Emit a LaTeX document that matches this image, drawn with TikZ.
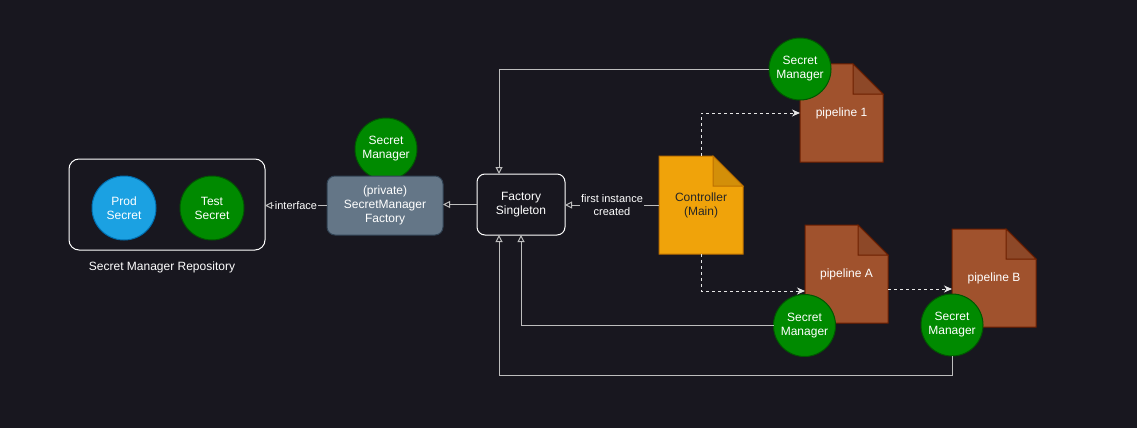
\documentclass[tikz,border=0pt]{standalone}
\usepackage{fontspec}
\setmainfont{Liberation Sans}
\usetikzlibrary{arrows.meta,calc}
\definecolor{bgc}{HTML}{18171F}
\definecolor{smgreen}{HTML}{008A00}
\definecolor{smgreenb}{HTML}{005700}
\definecolor{prodblue}{HTML}{1BA1E2}
\definecolor{prodblueb}{HTML}{006EAF}
\definecolor{smfill}{HTML}{647687}
\definecolor{smborder}{HTML}{314354}
\definecolor{ctrlfill}{HTML}{F0A30A}
\definecolor{ctrlborder}{HTML}{BD7000}
\definecolor{pipefill}{HTML}{A0522D}
\definecolor{pipeborder}{HTML}{6D1F00}
\definecolor{linec}{HTML}{BDBDBD}
\definecolor{dashc}{HTML}{E6E6E6}
\pgfdeclarelayer{bgl}\pgfdeclarelayer{notel}\pgfsetlayers{bgl,notel,main}
\newcommand\notebg[3]{%
\begin{pgfonlayer}{notel}
 \filldraw[fill=#2,draw=#3,line width=1pt,line join=miter] (#1.north west) -- ([xshift=-30pt]#1.north east) -- ([yshift=-30pt]#1.north east) -- (#1.south east) -- (#1.south west) -- cycle;
 \filldraw[fill=#2!88!black,draw=#3,line width=1pt,line join=miter] ([xshift=-30pt]#1.north east) -- ([xshift=-30pt,yshift=-30pt]#1.north east) -- ([yshift=-30pt]#1.north east) -- cycle;
\end{pgfonlayer}}
\tikzset{
  base/.style={font=\fontsize{12}{14}\selectfont, align=center, inner sep=0pt, outer sep=0pt, line width=1pt},
  smcircle/.style={base, circle, minimum size=62pt, fill=smgreen, draw=smgreenb, text=white},
  prodcircle/.style={base, circle, minimum size=64pt, fill=prodblue, draw=prodblueb, text=white},
  testcircle/.style={base, circle, minimum size=64pt, fill=smgreen, draw=smgreenb, text=white},
  notebox/.style={base, rectangle, minimum width=84pt, minimum height=98pt},
  conn/.style={draw=linec, line width=1pt, -{Triangle[open,length=7pt,width=7pt]}},
  dconn/.style={draw=dashc, line width=1pt, dash pattern=on 3pt off 3pt, -{Stealth[length=8pt,width=7pt,inset=2.5pt]}},
  elabel/.style={font=\fontsize{11}{13}\selectfont, align=center, text=white, fill=bgc, inner sep=1pt},
}
\begin{document}
\begin{tikzpicture}[x=1pt,y=-1pt]
\begin{pgfonlayer}{bgl}
\fill[bgc] (0,0) rectangle (1137,428);
\end{pgfonlayer}
\useasboundingbox (0,0) rectangle (1137,428);

% repository
\node[base, draw=white, rounded corners=10pt, minimum width=196pt, minimum height=91pt] (repo) at (167,204.5) {};
\node[prodcircle] (prod) at (124,208) {Prod\\Secret};
\node[testcircle] (test) at (212,208) {Test\\Secret};
\node[base, text=white] (repolabel) at (162,267) {Secret Manager Repository};

% factory
\node[smcircle] (sm0) at (386,149) {Secret\\Manager};
\node[base, fill=smfill, draw=smborder, rounded corners=8pt, minimum width=116pt, minimum height=59pt, text=white] (smf) at (385,205.5) {(private)\\SecretManager\\Factory};
\node[base, fill=bgc, draw=white, rounded corners=8pt, minimum width=88pt, minimum height=61pt, text=white] (fs) at (521,204.5) {Factory\\Singleton};

% notes
\node[notebox, text=black!85] (ctrl) at (701,205) {Controller\\(Main)};
\notebg{ctrl}{ctrlfill}{ctrlborder}
\node[notebox, minimum width=83pt, text=white] (p1) at (841.5,113) {pipeline 1};
\notebg{p1}{pipefill}{pipeborder}
\node[notebox, minimum width=83pt, text=white] (pA) at (846.5,274) {pipeline A};
\notebg{pA}{pipefill}{pipeborder}
\node[notebox, text=white] (pB) at (994,278) {pipeline B};
\notebg{pB}{pipefill}{pipeborder}

\node[smcircle] (sm1) at (800,69) {Secret\\Manager};
\node[smcircle] (smA) at (804.5,325.5) {Secret\\Manager};
\node[smcircle] (smB) at (952,325) {Secret\\Manager};

% connectors
\draw[conn] (smf.west) -- node[elabel] {interface} (smf.west -| repo.east);
\draw[conn] (fs.west) -- (fs.west -| smf.east);
\draw[conn] (ctrl.west) -- node[elabel] {first instance\\created} (ctrl.west -| fs.east);
\coordinate (fsNL) at ([xshift=-22pt]fs.north);
\coordinate (fsSL) at ([xshift=-22pt]fs.south);
\draw[conn] (sm1.west) -| (fsNL);
\draw[conn] (smA.west) -| (fs.south);
\coordinate (smBlow) at ([yshift=-19pt]smB.south);
\draw[conn] (smB.south) -- (smBlow) -| (fsSL);

\draw[dconn] (ctrl.north) |- (p1.west);
\coordinate (pAin) at ([yshift=-17pt]pA.west);
\draw[dconn] (ctrl.south) |- (pAin);
\coordinate (pAout) at ([yshift=-15pt]pA.east);
\draw[dconn] (pAout) -- (pAout -| pB.west);
\end{tikzpicture}
\end{document}
